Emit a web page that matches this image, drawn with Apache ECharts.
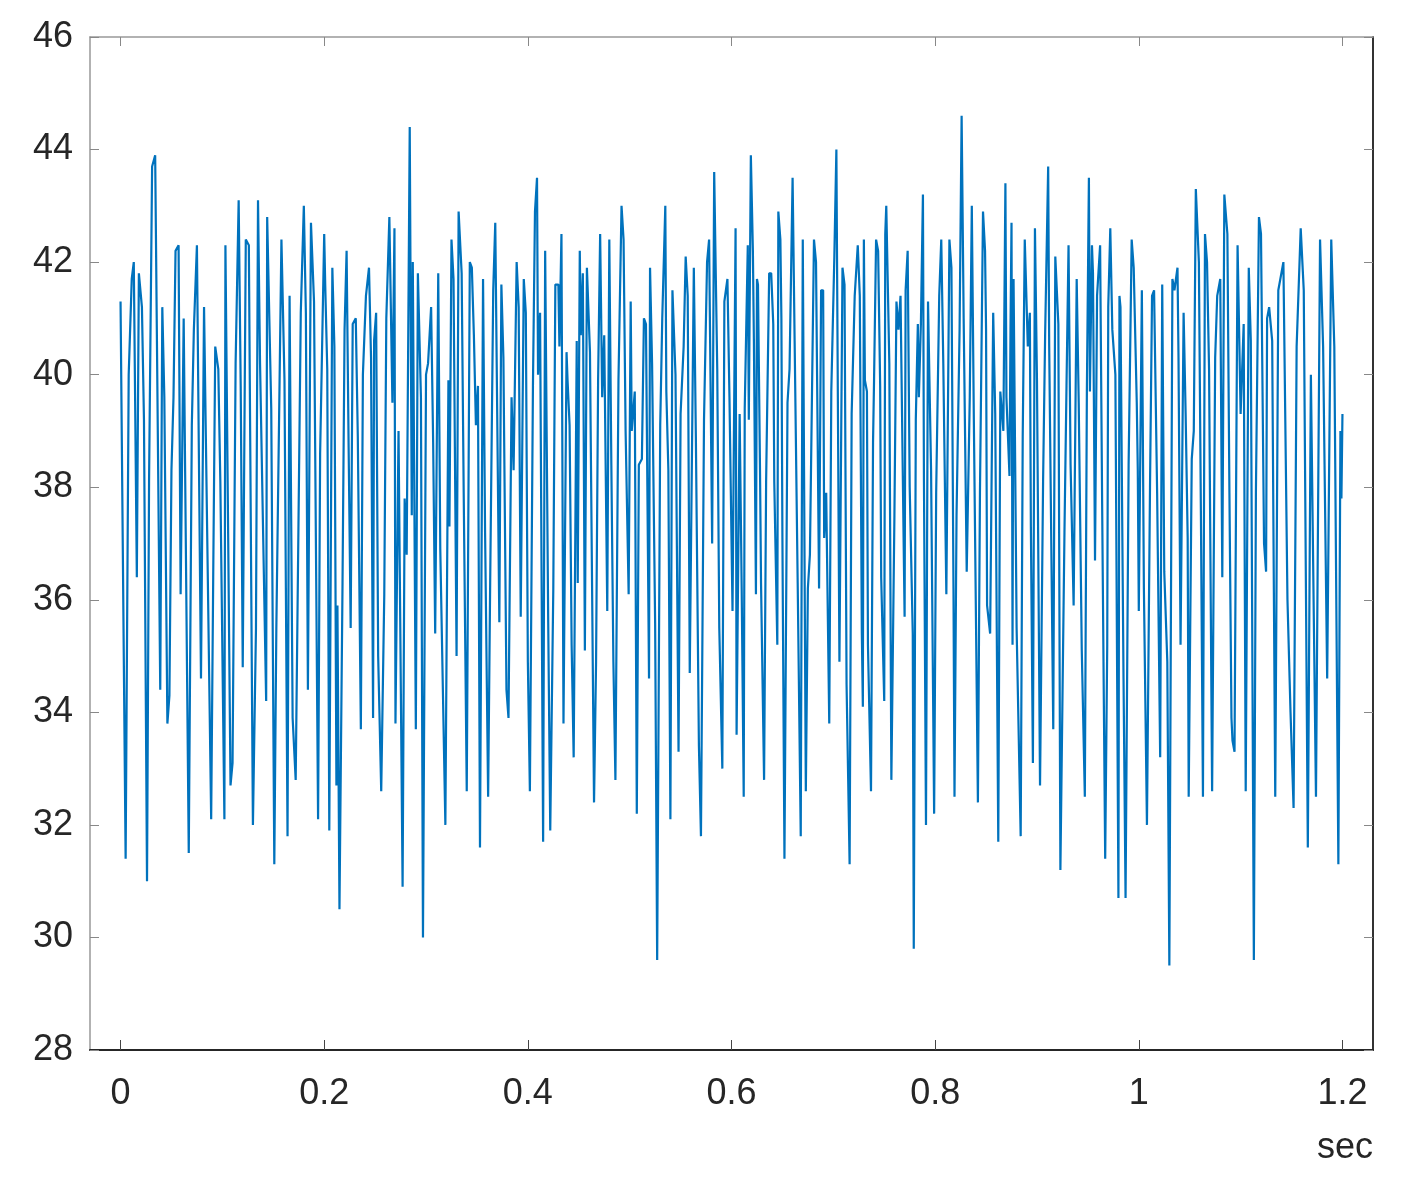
<!DOCTYPE html>
<html>
<head>
<meta charset="utf-8">
<script src="https://cdn.jsdelivr.net/npm/echarts@6/dist/echarts.min.js"></script>
<style>
html,body{margin:0;padding:0;background:#fff;}
#chart{width:1401px;height:1197px;}
</style>
</head>
<body>
<div id="chart"></div>
<script>
// time (sec)
var times = [
0.000,0.005,0.008,0.011,0.013,0.016,0.018,0.021,0.023,0.026,0.028,0.031,0.034,0.039,0.041,0.043,0.046,0.048,0.050,0.052,0.054,0.057,0.059,0.062,0.067,0.070,0.072,0.075,0.079,0.082,0.089,0.091,0.093,0.096,
0.098,0.102,0.103,0.108,0.110,0.113,0.116,0.118,0.120,0.123,0.126,0.130,0.133,0.135,0.137,0.143,0.144,0.148,0.151,0.153,0.158,0.161,0.164,0.166,0.169,0.172,0.177,0.180,0.182,0.184,0.187,0.190,0.194,0.196,0.200,0.201,
0.203,0.205,0.208,0.210,0.212,0.213,0.215,0.218,0.220,0.222,0.224,0.226,0.228,0.231,0.233,0.236,0.238,0.241,0.244,0.246,0.248,0.249,0.251,0.253,0.256,0.259,0.261,0.264,0.267,0.269,0.270,0.273,0.277,0.279,0.281,0.284,0.286,0.287,0.290,0.292,0.295,0.297,0.300,0.302,0.305,
0.307,0.309,0.312,0.314,0.319,0.322,0.323,0.325,0.327,0.330,0.332,0.335,0.337,0.340,0.343,0.345,0.347,0.349,0.351,0.353,0.356,0.358,0.361,0.363,0.366,0.368,0.372,0.374,0.376,0.379,0.381,0.384,0.386,0.389,0.391,0.393,0.396,0.398,0.400,0.402,0.405,0.407,
0.409,0.410,0.412,0.415,0.417,0.420,0.422,0.425,0.427,0.430,0.431,0.433,0.435,0.438,0.439,0.441,0.443,0.445,0.448,0.449,0.451,0.452,0.454,0.456,0.458,0.461,0.465,0.467,0.469,0.471,0.473,0.475,0.478,0.480,0.482,0.484,0.486,0.489,0.492,0.494,0.496,0.499,0.501,0.502,0.505,0.507,0.509,
0.512,0.514,0.516,0.519,0.520,0.522,0.525,0.527,0.530,0.532,0.535,0.536,0.538,0.540,0.542,0.545,0.548,0.550,0.553,0.555,0.557,0.559,0.563,0.565,0.568,0.570,0.573,0.576,0.578,0.581,0.583,0.586,0.588,0.591,0.593,0.596,0.598,0.601,0.604,0.605,0.608,0.610,0.612,0.613,
0.616,0.617,0.619,0.621,0.622,0.624,0.625,0.626,0.628,0.629,0.632,0.634,0.637,0.639,0.641,0.642,0.645,0.646,0.648,0.649,0.650,0.652,0.655,0.657,0.660,0.662,0.665,0.668,0.670,0.673,0.675,0.677,0.681,0.683,0.686,0.688,0.690,0.691,0.693,0.696,0.698,0.701,0.703,0.706,0.709,0.711,0.713,0.716,
0.718,0.721,0.724,0.726,0.728,0.729,0.730,0.731,0.733,0.734,0.737,0.739,0.740,0.742,0.744,0.746,0.747,0.750,0.751,0.752,0.755,0.757,0.760,0.762,0.764,0.766,0.770,0.771,0.773,0.775,0.778,0.779,0.781,0.783,0.784,0.786,0.788,0.789,0.791,0.793,0.796,0.799,0.801,0.804,0.806,0.808,0.811,0.814,0.816,0.818,0.819,
0.821,0.824,0.826,0.828,0.831,0.834,0.836,0.838,0.842,0.844,0.847,0.849,0.850,0.851,0.854,0.857,0.859,0.862,0.864,0.867,0.869,0.870,0.873,0.874,0.875,0.876,0.877,0.880,0.884,0.886,0.888,0.891,0.893,0.894,0.896,0.898,0.900,0.903,0.906,0.908,0.911,0.912,0.916,0.918,0.921,0.923,
0.927,0.929,0.931,0.933,0.936,0.939,0.941,0.944,0.947,0.949,0.951,0.952,0.954,0.955,0.957,0.959,0.962,0.964,0.967,0.969,0.970,0.972,0.974,0.977,0.980,0.981,0.982,0.985,0.987,0.990,0.993,0.995,0.998,0.999,1.000,1.003,1.005,1.008,1.011,1.013,1.015,1.018,1.021,1.023,
1.025,1.028,1.030,1.033,1.035,1.038,1.039,1.041,1.044,1.046,1.048,1.049,1.052,1.054,1.056,1.059,1.061,1.063,1.065,1.067,1.069,1.072,1.075,1.077,1.080,1.082,1.084,1.087,1.089,1.091,1.092,1.094,1.097,1.100,1.103,1.105,1.108,1.110,1.113,1.115,1.118,1.120,1.123,1.125,1.126,1.128,
1.131,1.134,1.137,1.142,1.146,1.149,1.152,1.155,1.159,1.162,1.166,1.169,1.174,1.178,1.181,1.185,1.189,1.192,1.196,1.198,1.199,1.200
];
// signal values
var values = [
41.3,31.4,40.0,41.7,42.0,36.4,41.8,41.2,39.2,31.0,38.1,43.7,43.9,34.4,41.2,39.6,33.8,34.3,38.3,39.6,42.2,42.3,36.1,41.0,31.5,39.1,40.8,42.3,34.6,41.2,32.1,36.4,40.5,40.1,
38.1,32.1,42.3,32.7,33.1,40.2,43.1,39.8,34.8,42.4,42.3,32.0,35.5,43.1,40.2,34.2,42.8,39.4,31.3,35.5,42.4,39.9,31.8,41.4,33.9,32.8,41.1,43.0,41.1,34.4,42.7,41.3,32.1,38.6,42.5,41.6,
40.1,31.9,41.9,40.5,32.7,35.9,30.5,36.3,40.8,42.2,38.7,35.5,40.9,41.0,38.9,33.7,40.0,41.4,41.9,40.3,33.9,40.6,41.1,35.0,32.6,36.1,41.0,42.8,39.5,42.6,33.8,39.0,30.9,37.8,36.8,44.4,37.5,42.0,33.7,41.8,39.6,30.0,40.0,40.2,41.2,
38.8,35.4,41.8,36.9,32.0,39.9,37.3,42.4,41.7,35.0,42.9,41.8,37.9,32.6,42.0,41.9,40.7,39.1,39.8,31.6,41.7,37.2,32.5,36.3,41.5,42.7,35.6,41.6,40.3,34.4,33.9,39.6,38.3,42.0,41.2,35.7,41.7,41.1,34.9,32.6,39.8,42.9,
43.5,40.0,41.1,31.7,42.2,35.6,31.9,36.2,41.6,41.6,40.5,42.5,33.8,40.4,39.9,39.1,35.2,33.2,40.6,36.3,42.2,40.7,41.8,35.1,41.9,40.4,32.4,34.9,39.9,42.5,39.6,40.7,35.8,42.4,38.4,34.9,32.8,39.9,43.0,42.4,39.0,36.1,41.3,39.0,39.7,32.2,38.4,
38.5,41.0,40.9,34.6,41.9,40.2,35.6,29.6,39.1,41.0,43.0,39.7,38.3,32.1,41.5,40.0,33.3,39.3,40.5,42.1,41.4,34.7,41.9,38.9,33.4,31.8,39.2,42.0,42.4,37.0,43.6,40.1,35.5,33.0,41.3,41.7,39.6,35.8,42.6,33.6,39.3,36.2,32.5,39.4,
42.3,39.2,43.9,42.2,40.6,36.1,41.7,41.6,38.3,36.3,32.8,38.1,41.8,41.8,40.9,38.1,35.2,42.9,42.4,41.0,37.1,31.4,39.5,40.1,43.5,40.6,36.3,31.8,42.4,32.6,36.2,36.8,42.4,42.0,36.2,41.5,41.5,37.1,37.9,33.8,39.7,42.1,44.0,34.9,41.9,41.6,34.5,31.3,
39.3,41.4,42.3,41.4,35.4,34.1,42.4,39.9,39.7,35.2,32.6,38.8,39.9,42.4,42.2,39.8,36.4,34.2,42.5,43.0,40.2,32.8,37.5,41.3,40.8,41.4,35.7,41.5,42.2,38.0,35.4,29.8,39.2,40.9,39.6,40.9,43.2,38.1,32.0,41.3,38.3,32.2,37.9,41.4,42.4,40.2,36.1,42.4,41.9,36.2,32.5,
37.5,40.8,44.6,41.0,36.5,39.6,43.0,39.2,32.4,37.9,42.9,42.2,40.8,35.9,35.4,41.1,39.3,31.7,39.7,39.0,43.4,39.6,38.2,40.8,42.7,35.2,41.7,35.5,31.8,38.9,42.4,40.5,41.1,37.3,33.1,42.6,39.9,32.7,38.1,40.7,43.7,40.5,33.7,42.1,40.9,31.2,
37.2,39.8,42.3,38.4,35.9,41.7,39.5,35.1,32.5,39.7,43.5,39.7,42.3,41.8,36.7,41.4,42.3,37.7,31.4,35.2,41.2,42.6,40.8,40.0,30.7,41.4,41.2,34.6,30.7,38.4,42.4,41.9,39.5,38.3,35.8,41.5,36.2,32.0,38.0,41.4,41.5,37.9,33.2,41.6,
36.5,34.9,29.5,41.7,41.5,41.9,40.3,35.2,41.1,39.3,37.1,32.5,38.5,39.0,43.3,42.0,37.5,32.5,42.5,42.0,40.1,32.6,40.3,41.4,41.7,36.4,43.2,42.5,37.9,33.9,33.5,33.3,42.3,39.3,40.9,32.6,41.9,40.6,29.6,37.9,42.8,42.5,37.0,36.5,41.0,41.2,
40.6,32.5,41.5,42.0,36.0,34.0,32.3,40.5,42.6,41.5,31.6,40.0,32.5,42.4,40.5,34.6,42.4,40.5,31.3,39.0,37.8,39.3
];
var xTickValues = [0, 0.2, 0.4, 0.6, 0.8, 1, 1.2];
var xTickLabels = ['0', '0.2', '0.4', '0.6', '0.8', '1', '1.2'];
var xUnitLabel = 'sec';

var seriesData = times.map(function (t, i) { return [t, values[i]]; });
var FONT = "'Liberation Sans', Arial, sans-serif";
var chart = echarts.init(document.getElementById('chart'), null, {renderer: 'canvas'});
chart.setOption({
  animation: false,
  backgroundColor: '#ffffff',
  grid: {left: 90, right: 28, top: 37, bottom: 147, show: false},
  xAxis: [{
    type: 'value', min: -0.03, max: 1.23, position: 'bottom',
    axisLine: {show: true, onZero: false, lineStyle: {color: '#262626', width: 2}},
    axisTick: {show: true, inside: true, length: 10, customValues: xTickValues, lineStyle: {color: '#444', width: 1}},
    axisLabel: {show: true, customValues: xTickValues, margin: 26, fontSize: 36, fontFamily: FONT, color: '#262626',
      formatter: function (v) { var i = xTickValues.indexOf(+(+v).toFixed(2)); return i >= 0 ? xTickLabels[i] : ''; }},
    splitLine: {show: false}
  }, {
    type: 'value', min: -0.03, max: 1.23, position: 'top',
    axisLine: {show: true, onZero: false, lineStyle: {color: '#999', width: 1.5}},
    axisTick: {show: true, inside: true, length: 9, customValues: xTickValues, lineStyle: {color: '#888', width: 1}},
    axisLabel: {show: false}, splitLine: {show: false}
  }],
  yAxis: [{
    type: 'value', min: 28, max: 46, interval: 2, position: 'left',
    axisLine: {show: true, onZero: false, lineStyle: {color: '#999', width: 1.5}},
    axisTick: {show: true, inside: true, length: 9, lineStyle: {color: '#888', width: 1}},
    axisLabel: {show: true, margin: 17, fontSize: 36, fontFamily: FONT, color: '#262626'},
    splitLine: {show: false}
  }, {
    type: 'value', min: 28, max: 46, interval: 2, position: 'right',
    axisLine: {show: true, onZero: false, lineStyle: {color: '#333', width: 2}},
    axisTick: {show: true, inside: true, length: 9, lineStyle: {color: '#888', width: 1}},
    axisLabel: {show: false}, splitLine: {show: false}
  }],
  graphic: [{
    type: 'text', right: 28, top: 1130,
    style: {text: xUnitLabel, font: "36px 'Liberation Sans', Arial, sans-serif", fill: '#262626'}
  }],
  series: [{
    type: 'line', xAxisIndex: 0, yAxisIndex: 0,
    data: seriesData, showSymbol: false, symbol: 'none', sampling: null,
    lineStyle: {color: '#0072BD', width: 2.2}, z: 1
  }]
});
</script>
</body>
</html>
